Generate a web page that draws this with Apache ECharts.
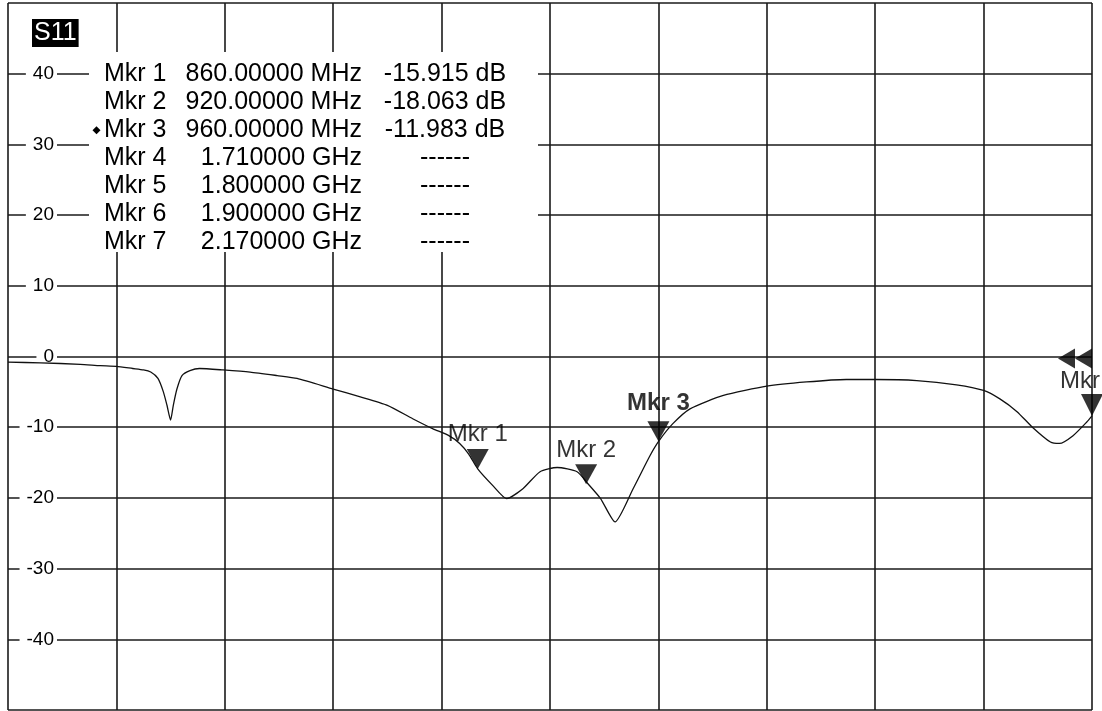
<!DOCTYPE html>
<html>
<head>
<meta charset="utf-8">
<script src="https://cdn.jsdelivr.net/npm/echarts@6/dist/echarts.min.js"></script>
<style>
html,body{margin:0;padding:0;background:#fff;}
#chart{width:1102px;height:711px;}
</style>
</head>
<body>
<div id="chart"></div>
<script>
// ---- data ----
const traceFreq = [600, 618, 640, 651, 660, 669, 675, 679, 683, 686, 688, 690, 691.5, 693.5, 696.3, 700.7, 706, 719, 734, 749, 760, 780, 795, 810, 824, 835, 844, 850, 855, 860, 868.5, 876, 885, 894.5, 904, 915, 921, 928, 936, 946, 955.4, 960.4, 968, 977.5, 996, 1020, 1042, 1064, 1080, 1103, 1125, 1140, 1149, 1158.5, 1167, 1177, 1182, 1189.5, 1197, 1200];
const traceDb   = [-0.8, -0.9, -1.1, -1.3, -1.4, -1.7, -1.9, -2.2, -3.1, -5.0, -6.9, -9.0, -6.9, -4.6, -2.7, -2.0, -1.7, -1.9, -2.2, -2.7, -3.1, -4.6, -5.7, -6.9, -8.8, -10.2, -11.2, -12.3, -13.8, -15.9, -18.3, -20.1, -18.7, -16.3, -15.7, -16.3, -18.0, -20.1, -23.4, -18.7, -14.0, -11.9, -9.5, -7.4, -5.5, -4.2, -3.6, -3.25, -3.25, -3.4, -4.0, -4.8, -6.0, -7.8, -10.0, -12.1, -12.3, -11.2, -9.3, -8.4];

const markerNames    = ['Mkr 1', 'Mkr 2', 'Mkr 3', 'Mkr 4', 'Mkr 5', 'Mkr 6', 'Mkr 7'];
const markerFreqText = ['860.00000 MHz', '920.00000 MHz', '960.00000 MHz', '1.710000 GHz', '1.800000 GHz', '1.900000 GHz', '2.170000 GHz'];
const markerValText  = ['-15.915 dB', '-18.063 dB', '-11.983 dB', '------', '------', '------', '------'];
const activeMarker = 2; // Mkr 3

const shownMarkerNames = ['Mkr 1', 'Mkr 2', 'Mkr 3'];
const shownMarkerFreq  = [860, 920, 960];
const shownMarkerDb    = [-15.915, -18.063, -11.983];

const edgeMarkerName = 'Mkr';
const traceTitle = 'S11';

const xMin = 600, xMax = 1200, xStep = 60;
const yMin = -50, yMax = 50, yStep = 10;
const yTickLabels = ['-40', '-30', '-20', '-10', '0', '10', '20', '30', '40'];

// ---- chart ----
const FONT = '"Liberation Sans", Arial, sans-serif';
const chart = echarts.init(document.getElementById('chart'), null, {renderer: 'canvas'});

const gridLeft = 8, gridTop = 3, gridW = 1084, gridH = 707;
const gridLine = {color: '#1a1a1a', width: 1.6};

const downTri = 'path://M0,0 L2,0 L1,2 Z';
const leftTri = 'path://M0,1 L2,0 L2,2 Z';

const markerData = shownMarkerFreq.map((f, i) => ({
  name: shownMarkerNames[i],
  value: [f, shownMarkerDb[i]],
  label: {
    fontWeight: i === activeMarker ? 'bold' : 'normal',
    distance: i === activeMarker ? 6 : (i === 0 ? 3 : 2)
  }
}));

// marker table graphic
const rowY0 = 74, rowStep = 28.1;
const TFONT = '25px ' + FONT;
const graphics = [
  {type: 'rect', left: 89, top: 52, shape: {width: 449, height: 200}, style: {fill: '#fff'}, z: 20, silent: true},
  {type: 'text', left: 32, top: 19, z: 22, style: {text: traceTitle, fill: '#fff', font: TFONT, backgroundColor: '#000', padding: [2, 2, 1, 2]}}
];
markerNames.forEach((n, i) => {
  const y = rowY0 + i * rowStep;
  graphics.push({type: 'text', z: 22, x: 104, y: y, style: {text: n, fill: '#000', font: TFONT, textAlign: 'left', textVerticalAlign: 'middle'}});
  graphics.push({type: 'text', z: 22, x: 362, y: y, style: {text: markerFreqText[i], fill: '#000', font: TFONT, textAlign: 'right', textVerticalAlign: 'middle'}});
  graphics.push({type: 'text', z: 22, x: 445, y: y, style: {text: markerValText[i], fill: '#000', font: TFONT, textAlign: 'center', textVerticalAlign: 'middle'}});
  if (i === activeMarker) {
    graphics.push({type: 'polygon', z: 22, shape: {points: [[96.5, y - 4], [100.5, y], [96.5, y + 4], [92.5, y]]}, style: {fill: '#000'}});
  }
});

const option = {
  animation: false,
  backgroundColor: '#fff',
  textStyle: {fontFamily: FONT},
  grid: {left: gridLeft, top: gridTop, width: gridW, height: gridH, containLabel: false},
  xAxis: {
    type: 'value', min: xMin, max: xMax, interval: xStep,
    axisLine: {show: false}, axisTick: {show: false}, axisLabel: {show: false},
    splitLine: {show: true, lineStyle: gridLine}
  },
  yAxis: [
    {
      type: 'value', min: yMin, max: yMax, interval: yStep, position: 'left',
      axisLine: {show: false}, axisTick: {show: false}, axisLabel: {show: false},
      splitLine: {show: true, lineStyle: gridLine}, z: 0
    },
    {
      type: 'value', min: yMin, max: yMax, interval: yStep, position: 'left', offset: 0,
      axisLine: {show: false}, axisTick: {show: false}, splitLine: {show: false},
      z: 1,
      axisLabel: {
        show: true, inside: true, margin: 49, align: 'right',
        showMinLabel: false, showMaxLabel: false,
        fontSize: 19, color: '#000', fontFamily: FONT,
        backgroundColor: '#fff', padding: [1, 3, 1, 7],
        formatter: function (v) {
          const s = String(v);
          return yTickLabels.indexOf(s) >= 0 ? s : '';
        }
      }
    }
  ],
  graphic: graphics,
  series: [
    {
      type: 'line', name: traceTitle, z: 3,
      data: traceFreq.map((f, i) => [f, traceDb[i]]),
      showSymbol: false, smooth: 0.2, silent: true,
      lineStyle: {color: '#111', width: 1.3}
    },
    {
      type: 'scatter', z: 6, silent: true,
      symbol: downTri, symbolSize: [22, 20], symbolOffset: [0, -10],
      itemStyle: {color: '#000'},
      label: {show: true, position: 'top', formatter: '{b}', fontSize: 24, color: '#000', fontFamily: FONT},
      data: markerData
    },
    {
      type: 'scatter', z: 6, silent: true, clip: false,
      symbol: downTri, symbolSize: [22, 22], symbolOffset: [0, -11],
      itemStyle: {color: '#000'},
      label: {show: true, position: 'top', formatter: '{b}', fontSize: 24, color: '#000', fontFamily: FONT, distance: 1, offset: [-12, 0]},
      data: [{name: edgeMarkerName, value: [xMax, traceDb[traceDb.length - 1]]}]
    },
    {
      type: 'scatter', z: 6, silent: true, clip: false,
      symbol: leftTri, symbolSize: [17, 20],
      itemStyle: {color: '#000'},
      data: [
        {value: [xMax, 0], symbolOffset: [-8.5, 2]},
        {value: [xMax, 0], symbolOffset: [-25.5, 2]}
      ]
    }
  ]
};
chart.setOption(option);
</script>
</body>
</html>
